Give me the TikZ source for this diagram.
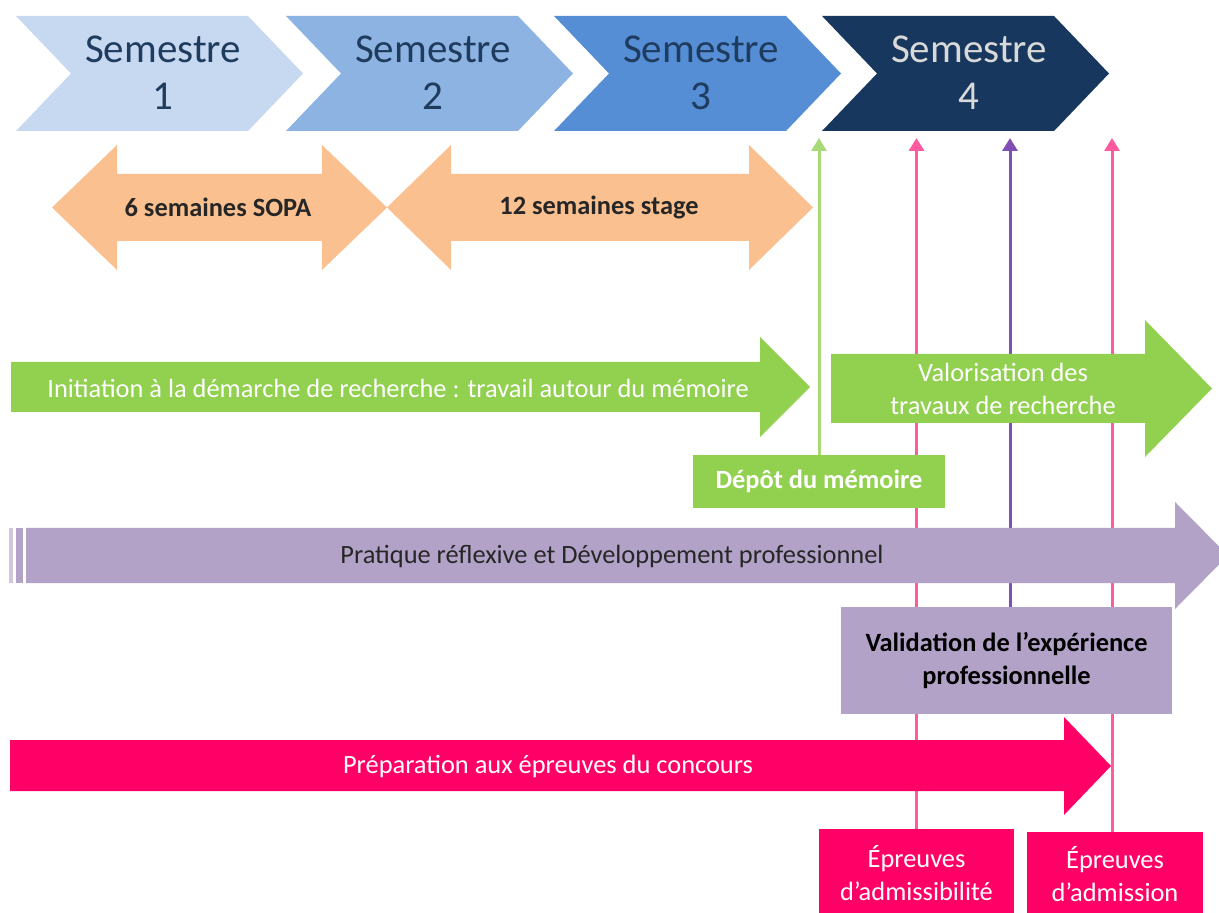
\documentclass[tikz,border=0pt]{standalone}
\usepackage{fontspec}
\setmainfont{Carlito}
\usetikzlibrary{arrows.meta,backgrounds}
\definecolor{semA}{HTML}{C6D9F1}
\definecolor{semB}{HTML}{8DB3E2}
\definecolor{semC}{HTML}{558ED5}
\definecolor{semD}{HTML}{17375E}
\definecolor{semtxt}{HTML}{1F3B5E}
\definecolor{semtxtD}{HTML}{D9D9D9}
\definecolor{orng}{HTML}{FAC090}
\definecolor{grn}{HTML}{92D050}
\definecolor{prpl}{HTML}{B3A2C7}
\definecolor{pnk}{HTML}{FF0066}
\definecolor{lgrn}{HTML}{A8DA78}
\definecolor{lpnk}{HTML}{FF5A9E}
\definecolor{lprp}{HTML}{7F4FB5}
\definecolor{dtxt}{HTML}{262626}
\begin{document}
\begin{tikzpicture}[x=0.5pt,y=-0.5pt,
  semlabel/.style={align=center,font=\fontsize{20.5}{23.5}\selectfont,inner sep=0pt},
  txt/.style={align=center,font=\fontsize{13.2}{16.5}\selectfont,inner sep=0pt},
  txtb/.style={align=center,font=\fontsize{13.2}{16.5}\selectfont\bfseries,inner sep=0pt},
  boxnode/.style={rectangle,inner sep=0pt,align=center},
  vline/.style={line width=1.5pt,-{Triangle[width=7.5pt,length=6.5pt]}},
]
\useasboundingbox (0,0) rectangle (1219,913);
\clip (0,0) rectangle (1219,913);

% semester chevrons
\foreach \L/\c in {16/semA,286/semB,554/semC,822/semD}
  \fill[\c] (\L,16) -- ++(232,0) -- ++(55,57.5) -- ++(-55,57.5) -- ++(-232,0) -- ++(55,-57.5) -- cycle;
\node[semlabel,text=semtxt] (s1) at (163,72.5) {Semestre\\1};
\node[semlabel,text=semtxt] (s2) at (433,72.5) {Semestre\\2};
\node[semlabel,text=semtxt] (s3) at (701,72.5) {Semestre\\3};
\node[semlabel,text=semtxtD] (s4) at (969,72.5) {Semestre\\4};

% orange double arrows
\fill[orng] (52,207.5) -- (117,145) -- (117,174) -- (322,174) -- (322,145) -- (387,207.5) -- (322,270) -- (322,241) -- (117,241) -- (117,270) -- cycle;
\fill[orng] (387,207.5) -- (451,145) -- (451,174) -- (749,174) -- (749,145) -- (813,207.5) -- (749,270) -- (749,241) -- (451,241) -- (451,270) -- cycle;
\node[txtb,text=dtxt] (sopa) at (218,207.5) {6 semaines SOPA};
\node[txtb,text=dtxt] (stage) at (599,207.5) {12 semaines stage};

% green arrows
\fill[grn] (11,362) -- (760,362) -- (760,337) -- (810,387) -- (760,437) -- (760,412) -- (11,412) -- cycle;
\node[txt,text=white] (init) at (398,388) {Initiation à la démarche de recherche : travail autour du mémoire};
\fill[grn] (831,354) -- (1145,354) -- (1145,320) -- (1212,388.5) -- (1145,457) -- (1145,423) -- (831,423) -- cycle;
\node[txt,text=white] (valo) at (1003,389) {Valorisation des\\travaux de recherche};

% purple arrow
\fill[prpl!60] (9,528) rectangle (13,583);
\fill[prpl] (16,528) rectangle (23,583);
\fill[prpl] (26,528) -- (1175,528) -- (1175,502) -- (1228,555.5) -- (1175,609) -- (1175,583) -- (26,583) -- cycle;
\node[txt,text=dtxt] (prat) at (612,556) {Pratique réflexive et Développement professionnel};

% pink arrow
\fill[pnk] (10,740) -- (1064,740) -- (1064,717) -- (1111,766) -- (1064,815) -- (1064,791) -- (10,791) -- cycle;
\node[txt,text=white] (prep) at (548,766) {Préparation aux épreuves du concours};

% boxes
\node[boxnode,fill=grn,text=white,font=\fontsize{13.2}{16.5}\selectfont\bfseries,minimum width=126pt,minimum height=26.5pt] (depot) at (819,481.5) {Dépôt du mémoire};
\node[boxnode,fill=prpl,text=black,font=\fontsize{13.2}{16.5}\selectfont\bfseries,minimum width=165.5pt,minimum height=53.5pt] (valid) at (1006.5,660.5) {Validation de l’expérience\\professionnelle};
\node[boxnode,fill=pnk,text=white,font=\fontsize{13.2}{16.5}\selectfont,minimum width=97.5pt,minimum height=44pt] (admiss) at (916.5,873) {Épreuves\\d’admissibilité};
\node[boxnode,fill=pnk,text=white,font=\fontsize{13.2}{16.5}\selectfont,minimum width=88pt,minimum height=42.5pt] (admis) at (1115,874.5) {Épreuves\\d’admission};

% vertical connectors (behind everything)
\coordinate (top) at (0,138);
\begin{scope}[on background layer]
\draw[vline,lgrn] (depot.north) -- (depot.north |- top);
\draw[vline,lpnk] (admiss.north) -- (admiss.north |- top);
\draw[vline,lprp] ([xshift=1.75pt]valid.north) -- ([xshift=1.75pt]valid.north |- top);
\draw[vline,lpnk] ([xshift=-1.5pt]admis.north) -- ([xshift=-1.5pt]admis.north |- top);
\end{scope}
\end{tikzpicture}
\end{document}
